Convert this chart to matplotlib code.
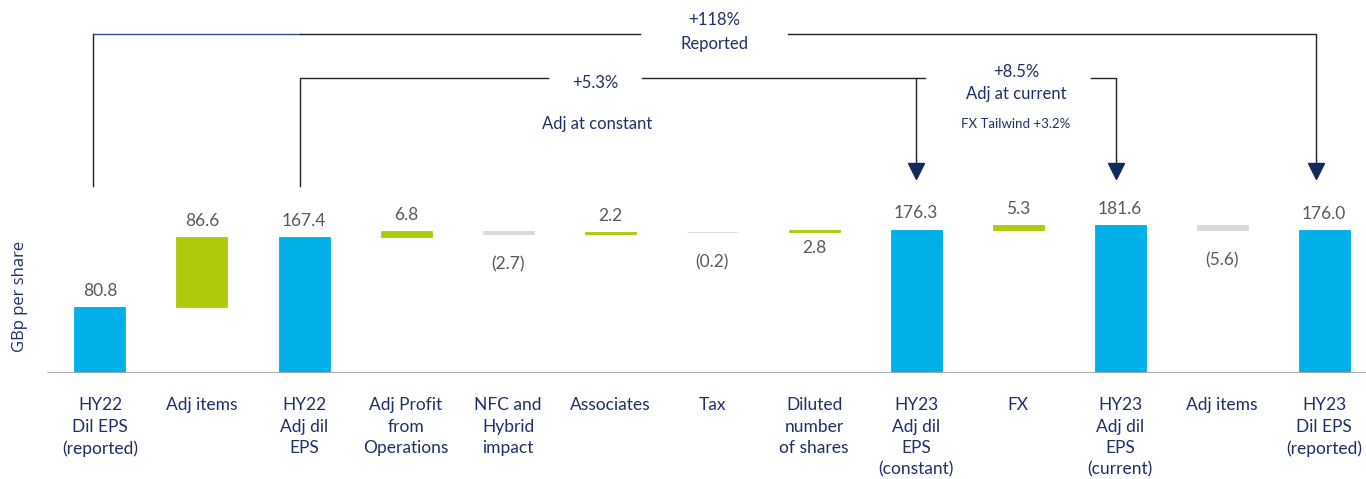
import matplotlib
matplotlib.use("Agg")
import matplotlib.pyplot as plt
import numpy as np

plt.rcParams["font.family"] = ["Lato", "DejaVu Sans"]

# waterfall data (GBp per share)
categories = [
    "HY22\nDil EPS\n(reported)", "Adj items", "HY22\nAdj dil\nEPS",
    "Adj Profit\nfrom\nOperations", "NFC and\nHybrid\nimpact", "Associates",
    "Tax", "Diluted\nnumber\nof shares", "HY23\nAdj dil\nEPS\n(constant)",
    "FX", "HY23\nAdj dil\nEPS\n(current)", "Adj items", "HY23\nDil EPS\n(reported)",
]
values = [80.8, 86.6, 167.4, 6.8, -2.7, 2.2, -0.2, 2.8, 176.3, 5.3, 181.6, -5.6, 176.0]
is_total = [True, False, True, False, False, False, False, False, True, False, True, False, True]
value_labels = ["80.8", "86.6", "167.4", "6.8", "(2.7)", "2.2", "(0.2)", "2.8",
                "176.3", "5.3", "181.6", "(5.6)", "176.0"]

BLUE = "#00B0E8"
GREEN = "#AFCA0B"
GREY = "#D9D9D9"
NAVY = "#1F2F6B"
VALGREY = "#595959"
ARROW = "#0F2A5E"

fig = plt.figure(figsize=(13.66, 4.79), dpi=100)
ax = fig.add_axes([0, 106 / 479, 1, 373 / 479])
ax.set_xlim(-0.98, 12.41)
ax.set_ylim(0, 459)
ax.axis("off")

# running waterfall
bottoms, heights, colors = [], [], []
running = 0.0
for v, tot in zip(values, is_total):
    if tot:
        bottoms.append(0)
        heights.append(v)
        colors.append(BLUE)
        running = v
    else:
        if v >= 0:
            bottoms.append(running)
            heights.append(v)
            colors.append(GREEN)
        else:
            bottoms.append(running + v)
            heights.append(-v)
            colors.append(GREY)
        running += v

x = np.arange(len(categories))
ax.bar(x, heights, bottom=bottoms, width=0.5, color=colors,
       edgecolor=colors, linewidth=0.6)

# baseline
ax.axhline(0, xmin=48 / 1366, xmax=1, color="#A6A6A6", linewidth=2)

# value labels: above the bar, or below for the few placed underneath
label_below = [False, False, False, False, True, False, True, True,
               False, False, False, True, False]
for i, lab in enumerate(value_labels):
    top = bottoms[i] + heights[i]
    if label_below[i]:
        off = -6 if i == 7 else -16
        ax.annotate(lab, (i, bottoms[i]), xytext=(0, off), textcoords="offset points",
                    ha="center", va="top", fontsize=12.5, color=VALGREY)
    else:
        ax.annotate(lab, (i, top), xytext=(0, 6), textcoords="offset points",
                    ha="center", va="bottom", fontsize=12.5, color=VALGREY)

# category labels
for i, c in enumerate(categories):
    ax.text(i, -29.6, c, ha="center", va="top", fontsize=12.5, color=NAVY,
            linespacing=1.42, clip_on=False)

fig.text(20 / 1366, 1 - 296 / 479, "GBp per share", rotation=90, ha="center",
         va="center", fontsize=12, color=NAVY, family=["Open Sans", "DejaVu Sans"])

# brackets
lw = 1.0
lc = "#222222"
y_top, y_mid = 417.5, 363.3
y_drop, y_arrow = 230.3, 248.8

# reported bracket (HY22 dil -> HY23 dil)
ax.plot([-0.07, -0.07], [y_drop, y_top], color=lc, lw=lw)
ax.plot([-0.07, 1.96], [y_top, y_top], color="#3B4E8C", lw=lw)
ax.plot([1.96, 5.29], [y_top, y_top], color=lc, lw=lw)
ax.plot([6.74, 11.92, 11.92], [y_top, y_top, y_arrow + 6], color=lc, lw=lw)
ax.plot([11.92], [y_arrow], marker="v", markersize=11, color=ARROW)
ax.text(6.02, 434.7, "+118%", ha="center", va="center", fontsize=12, color=NAVY)
ax.text(6.02, 405, "Reported", ha="center", va="center", fontsize=12, color=NAVY)

# adj at constant bracket
ax.plot([1.96, 1.96, 4.39], [y_drop, y_mid, y_mid], color=lc, lw=lw)
ax.plot([5.31, 8.09], [y_mid, y_mid], color=lc, lw=lw)
ax.plot([8.0, 8.0], [y_mid, y_arrow + 6], color=lc, lw=lw)
ax.plot([8.0], [y_arrow], marker="v", markersize=11, color=ARROW)
ax.text(4.85, 357, "+5.3%", ha="center", va="center", fontsize=12, color=NAVY)
ax.text(4.87, 306.7, "Adj at constant", ha="center", va="center", fontsize=12, color=NAVY)

# adj at current bracket
ax.plot([9.71, 9.96, 9.96], [y_mid, y_mid, y_arrow + 6], color=lc, lw=lw)
ax.plot([9.96], [y_arrow], marker="v", markersize=11, color=ARROW)
ax.text(8.98, 370.7, "+8.5%", ha="center", va="center", fontsize=12, color=NAVY)
ax.text(8.98, 343.6, "Adj at current", ha="center", va="center", fontsize=12, color=NAVY)
ax.text(8.98, 306.7, "FX Tailwind +3.2%", ha="center", va="center", fontsize=9.5, color=NAVY)

fig.savefig("out.png", dpi=100)
